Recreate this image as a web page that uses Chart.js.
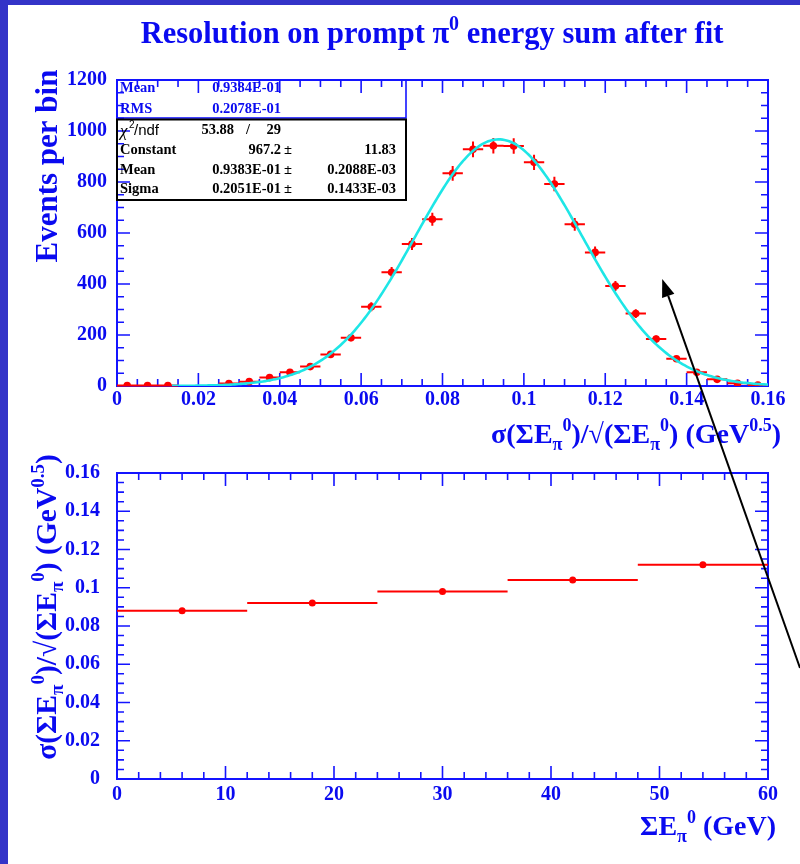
<!DOCTYPE html>
<html>
<head>
<meta charset="utf-8">
<script src="https://cdn.jsdelivr.net/npm/chart.js@4.4.1/dist/chart.umd.min.js"></script>
<style>
  html, body { margin: 0; padding: 0; background: #ffffff; }
  #page { position: relative; width: 800px; height: 864px; overflow: hidden; background: #ffffff; }
  #page canvas { position: absolute; left: 0; top: 0; }
  .band { position: absolute; background: #3434c8; }
</style>
</head>
<body>
<div id="page">
  <div class="band" style="left:0;top:0;width:800px;height:5px"></div>
  <div class="band" style="left:0;top:0;width:8px;height:864px"></div>
  <canvas id="histo" width="800" height="864"></canvas>
  <canvas id="trend" width="800" height="864"></canvas>
  <canvas id="marks" width="800" height="864"></canvas>
</div>
<script>
// ---- histogram: resolution per event (32 bins of width 0.005) ----
const binCenters = [0.0025, 0.0075, 0.0125, 0.0175, 0.0225, 0.0275, 0.0325, 0.0375,
                    0.0425, 0.0475, 0.0525, 0.0575, 0.0625, 0.0675, 0.0725, 0.0775,
                    0.0825, 0.0875, 0.0925, 0.0975, 0.1025, 0.1075, 0.1125, 0.1175,
                    0.1225, 0.1275, 0.1325, 0.1375, 0.1425, 0.1475, 0.1525, 0.1575];
const binCounts  = [2, 2, 2, null, null, 10, 17, 33,
                    54, 76, 124, 189, 311, 446, 557, 654,
                    834, 928, 942, 941, 877, 792, 634, 524,
                    392, 284, 184, 107, 54, 26, 11, 4];
const binErrors  = [1.4, 1.4, 1.4, null, null, 3.2, 4.1, 5.7,
                    7.3, 8.7, 11.1, 13.7, 17.6, 21.1, 23.6, 25.6,
                    28.9, 30.5, 30.7, 30.7, 29.6, 28.1, 25.2, 22.9,
                    19.8, 16.9, 13.6, 10.3, 7.3, 5.1, 3.3, 2.0];
const binHalfWidth = 0.0025;

// histogram statistics and Gaussian fit result
const histMean = 0.09384, histRms = 0.02078;
const fitChi2 = 53.88, fitNdf = 29;
const fitConstant = 967.2, fitConstantErr = 11.83;
const fitMean = 0.09383,   fitMeanErr = 0.0002088;
const fitSigma = 0.02051,  fitSigmaErr = 0.0001433;
const fitRange = [0.0135, 0.16];

const histXTicks  = [0, 0.02, 0.04, 0.06, 0.08, 0.1, 0.12, 0.14, 0.16];
const histXLabels = ['0', '0.02', '0.04', '0.06', '0.08', '0.1', '0.12', '0.14', '0.16'];
const histYTicks  = [0, 200, 400, 600, 800, 1000, 1200];
const histYLabels = ['0', '200', '400', '600', '800', '1000', '1200'];

// ---- resolution versus pi0 energy sum ----
const energyCenters    = [6, 18, 30, 42, 54];
const energyHalfWidths = [6, 6, 6, 6, 6];
const resolution       = [0.088, 0.092, 0.098, 0.104, 0.112];

const trendXTicks  = [0, 10, 20, 30, 40, 50, 60];
const trendXLabels = ['0', '10', '20', '30', '40', '50', '60'];
const trendYTicks  = [0, 0.02, 0.04, 0.06, 0.08, 0.1, 0.12, 0.14, 0.16];
const trendYLabels = ['0', '0.02', '0.04', '0.06', '0.08', '0.1', '0.12', '0.14', '0.16'];

// ---- styling ----
const SERIF = '"Liberation Serif", "Times New Roman", serif';
const SANS = '"Liberation Sans", Arial, sans-serif';
const BLUE = '#0a0af0';
const AXIS_BLUE = '#1414ff';
const RED = '#ff0000';
const CYAN = '#1ee6e6';

// ROOT-style number format: 0.9383E-01
function rootExp(v) {
  const e = Math.floor(Math.log10(Math.abs(v))) + 1;
  const m = v / Math.pow(10, e);
  const a = Math.abs(e);
  return m.toFixed(4) + 'E' + (e < 0 ? '-' : '+') + (a < 10 ? '0' : '') + a;
}

// draws text made of normal / subscript / superscript pieces
function drawRich(ctx, parts, x, y, size, align) {
  const fontOf = p => 'bold ' + ((p.sub || p.sup) ? Math.round(size * 0.66) : size) + 'px ' + SERIF;
  let total = 0;
  parts.forEach(p => { ctx.font = fontOf(p); total += ctx.measureText(p.t).width; });
  let cx = align === 'right' ? x - total : (align === 'center' ? x - total / 2 : x);
  ctx.textAlign = 'left';
  ctx.textBaseline = 'alphabetic';
  parts.forEach(p => {
    ctx.font = fontOf(p);
    const dy = p.sub ? size * 0.24 : (p.sup ? -size * 0.42 : 0);
    ctx.fillText(p.t, cx, y + dy);
    cx += ctx.measureText(p.t).width;
  });
}

const resolutionTitle = [
  { t: 'σ(ΣE' }, { t: 'π', sub: true }, { t: '0', sup: true },
  { t: ')/√(ΣE' }, { t: 'π', sub: true }, { t: '0', sup: true },
  { t: ') (GeV' }, { t: '0.5', sup: true }, { t: ')' }
];

// frame with inward ticks on all four sides
const rootAxes = {
  id: 'rootAxes',
  beforeDatasetsDraw(chart, args, o) {
    const { ctx, chartArea: a, scales: { x, y } } = chart;
    ctx.save();
    ctx.strokeStyle = AXIS_BLUE;
    ctx.lineWidth = 1.6;
    ctx.beginPath();
    const nx = Math.round((x.max - x.min) / o.xMinor);
    for (let k = 0; k <= nx; k++) {
      const v = x.min + k * o.xMinor;
      const len = (k % o.xPer === 0) ? 13 : 7;
      const px = x.getPixelForValue(v);
      ctx.moveTo(px, a.bottom); ctx.lineTo(px, a.bottom - len);
      ctx.moveTo(px, a.top); ctx.lineTo(px, a.top + len);
    }
    const ny = Math.round((y.max - y.min) / o.yMinor);
    for (let k = 0; k <= ny; k++) {
      const v = y.min + k * o.yMinor;
      const len = (k % o.yPer === 0) ? 13 : 7;
      const py = y.getPixelForValue(v);
      ctx.moveTo(a.left, py); ctx.lineTo(a.left + len, py);
      ctx.moveTo(a.right, py); ctx.lineTo(a.right - len, py);
    }
    ctx.stroke();
    ctx.lineWidth = 2;
    ctx.strokeRect(a.left, a.top, a.right - a.left, a.bottom - a.top);
    ctx.restore();
  }
};

// horizontal (bin width) and vertical (statistical) error bars
const errorBars = {
  id: 'errorBars',
  beforeDatasetsDraw(chart) {
    const { ctx, scales: { x, y } } = chart;
    chart.data.datasets.forEach(ds => {
      if (!ds.errorBars) return;
      ctx.save();
      ctx.strokeStyle = ds.errorBars.color;
      ctx.lineWidth = ds.errorBars.width;
      ctx.beginPath();
      ds.data.forEach(p => {
        if (p.y == null) return;
        const px = x.getPixelForValue(p.x), py = y.getPixelForValue(p.y);
        ctx.moveTo(x.getPixelForValue(p.x - p.xErr), py);
        ctx.lineTo(x.getPixelForValue(p.x + p.xErr), py);
        if (p.yErr) {
          ctx.moveTo(px, y.getPixelForValue(p.y - p.yErr));
          ctx.lineTo(px, y.getPixelForValue(p.y + p.yErr));
        }
      });
      ctx.stroke();
      ctx.restore();
    });
  }
};

// statistics box and fit box in the upper-left corner of the histogram
const statsBoxes = {
  id: 'statsBoxes',
  afterDatasetsDraw(chart) {
    const { ctx, chartArea: a } = chart;
    const left = a.left, right = 406;
    ctx.save();
    ctx.strokeStyle = AXIS_BLUE; ctx.lineWidth = 1.6;
    ctx.strokeRect(left, a.top, right - left, 38);
    ctx.strokeStyle = '#000'; ctx.lineWidth = 2;
    ctx.strokeRect(left, a.top + 39.5, right - left, 80.5);

    const f = 'bold 14.5px ' + SERIF;
    ctx.textBaseline = 'middle';
    ctx.font = f;
    ctx.fillStyle = BLUE;
    [['Mean', rootExp(histMean)], ['RMS', rootExp(histRms)]].forEach((r, i) => {
      const yy = a.top + 8.5 + i * 21;
      ctx.textAlign = 'left'; ctx.fillText(r[0], left + 3, yy);
      ctx.textAlign = 'right'; ctx.fillText(r[1], 281, yy);
    });

    ctx.fillStyle = '#000';
    // chi2 / ndf row
    let yy = a.top + 50.5;
    ctx.textAlign = 'left';
    ctx.font = 'italic 17px ' + SERIF; ctx.fillText('χ', left + 3, yy + 1);
    ctx.font = '10px ' + SANS; ctx.fillText('2', left + 12, yy - 5);
    ctx.font = '15px ' + SANS; ctx.fillText('/ndf', left + 17, yy);
    ctx.font = f;
    ctx.textAlign = 'right'; ctx.fillText(fitChi2.toFixed(2), 234, yy);
    ctx.textAlign = 'center'; ctx.fillText('/', 248, yy);
    ctx.textAlign = 'right'; ctx.fillText(String(fitNdf), 281, yy);

    const rows = [
      ['Constant', fitConstant.toFixed(1), fitConstantErr.toFixed(2)],
      ['Mean', rootExp(fitMean), rootExp(fitMeanErr)],
      ['Sigma', rootExp(fitSigma), rootExp(fitSigmaErr)]
    ];
    rows.forEach((r, i) => {
      const ry = a.top + 70.5 + i * 19.5;
      ctx.textAlign = 'left'; ctx.fillText(r[0], left + 3, ry);
      ctx.textAlign = 'right'; ctx.fillText(r[1], 281, ry);
      ctx.textAlign = 'left'; ctx.fillText('±', 284, ry);
      ctx.textAlign = 'right'; ctx.fillText(r[2], 396, ry);
    });
    ctx.restore();
  }
};

// titles of the histogram pad
const histTitles = {
  id: 'histTitles',
  afterDraw(chart) {
    const ctx = chart.ctx;
    ctx.save();
    ctx.fillStyle = BLUE;
    drawRich(ctx, [{ t: 'Resolution on prompt π' }, { t: '0', sup: true }, { t: ' energy sum after fit' }],
             432, 43, 30.5, 'center');
    drawRich(ctx, resolutionTitle, 781, 443, 28, 'right');
    ctx.translate(57, 166);
    ctx.rotate(-Math.PI / 2);
    drawRich(ctx, [{ t: 'Events per bin' }], 0, 0, 31, 'center');
    ctx.restore();
  }
};

// titles of the trend pad
const trendTitles = {
  id: 'trendTitles',
  afterDraw(chart) {
    const ctx = chart.ctx;
    ctx.save();
    ctx.fillStyle = BLUE;
    drawRich(ctx, [{ t: 'ΣE' }, { t: 'π', sub: true }, { t: '0', sup: true }, { t: ' (GeV)' }],
             776, 835, 28, 'right');
    ctx.translate(56, 607);
    ctx.rotate(-Math.PI / 2);
    drawRich(ctx, resolutionTitle, 0, 0, 29.5, 'center');
    ctx.restore();
  }
};

function tickFont() {
  return { family: SERIF, size: 20, weight: 'bold', lineHeight: 1.2 };
}

function linearAxis(min, max, values, labels, isX, size, pad) {
  return {
    type: 'linear', min, max,
    afterBuildTicks: s => { s.ticks = values.map(v => ({ value: v })); },
    afterFit: s => { if (isX) s.height = size; else s.width = size; },
    grid: { display: false, drawTicks: false },
    border: { display: false },
    ticks: {
      autoSkip: false, maxRotation: 0, padding: pad,
      color: BLUE, font: tickFont(),
      callback: (v, i) => labels[i]
    }
  };
}

// histogram points
const histPoints = binCenters.map((x, i) => ({ x, y: binCounts[i], xErr: binHalfWidth, yErr: binErrors[i] }));

// Gaussian drawn from the fitted parameters over the fit range
const fitPoints = [];
for (let k = 0; k <= 294; k++) {
  const x = fitRange[0] + k * (fitRange[1] - fitRange[0]) / 294;
  const z = (x - fitMean) / fitSigma;
  fitPoints.push({ x, y: fitConstant * Math.exp(-0.5 * z * z) });
}

const histChart = new Chart(document.getElementById('histo'), {
  type: 'scatter',
  data: {
    datasets: [
      {
        label: 'events', data: histPoints, order: 2,
        pointRadius: 3.8, pointBackgroundColor: RED, pointBorderWidth: 0, showLine: false,
        errorBars: { color: RED, width: 2 }
      },
      {
        label: 'gaus fit', type: 'line', data: fitPoints, order: 1,
        borderColor: CYAN, borderWidth: 2.6, pointRadius: 0, fill: false, tension: 0
      }
    ]
  },
  options: {
    responsive: false, animation: false, events: [],
    layout: { padding: { left: 0, top: 80, right: 32, bottom: 448 } },
    plugins: {
      legend: { display: false }, tooltip: { enabled: false },
      rootAxes: { xMinor: 0.005, xPer: 4, yMinor: 50, yPer: 4 }
    },
    scales: {
      x: linearAxis(0, 0.16, histXTicks, histXLabels, true, 30, 2),
      y: linearAxis(0, 1200, histYTicks, histYLabels, false, 117, 10)
    }
  },
  plugins: [rootAxes, errorBars, statsBoxes, histTitles]
});

const trendPoints = energyCenters.map((x, i) => ({ x, y: resolution[i], xErr: energyHalfWidths[i], yErr: 0 }));

new Chart(document.getElementById('trend'), {
  type: 'scatter',
  data: {
    datasets: [{
      label: 'resolution', data: trendPoints,
      pointRadius: 3.5, pointBackgroundColor: RED, pointBorderWidth: 0, showLine: false,
      errorBars: { color: RED, width: 2 }
    }]
  },
  options: {
    responsive: false, animation: false, events: [],
    layout: { padding: { left: 0, top: 473, right: 32, bottom: 55 } },
    plugins: {
      legend: { display: false }, tooltip: { enabled: false },
      rootAxes: { xMinor: 2, xPer: 5, yMinor: 0.005, yPer: 4 }
    },
    scales: {
      x: linearAxis(0, 60, trendXTicks, trendXLabels, true, 30, 4),
      y: linearAxis(0, 0.16, trendYTicks, trendYLabels, false, 117, 17)
    }
  },
  plugins: [rootAxes, errorBars, trendTitles]
});

// pointer arrow from the right edge into the histogram tail
const arrowTip = { x: 0.134, y: 420 };
(function drawArrow() {
  const ctx = document.getElementById('marks').getContext('2d');
  const tx = histChart.scales.x.getPixelForValue(arrowTip.x);
  const ty = histChart.scales.y.getPixelForValue(arrowTip.y);
  const sx = 800, sy = 668;
  const ang = Math.atan2(ty - sy, tx - sx);
  const L = 18, W = 6.5;
  const bx = tx - L * Math.cos(ang), by = ty - L * Math.sin(ang);
  ctx.strokeStyle = '#000'; ctx.fillStyle = '#000'; ctx.lineWidth = 2;
  ctx.beginPath(); ctx.moveTo(sx, sy); ctx.lineTo(bx, by); ctx.stroke();
  ctx.beginPath();
  ctx.moveTo(tx, ty);
  ctx.lineTo(bx + W * Math.sin(ang), by - W * Math.cos(ang));
  ctx.lineTo(bx - W * Math.sin(ang), by + W * Math.cos(ang));
  ctx.closePath(); ctx.fill();
})();
</script>
</body>
</html>
